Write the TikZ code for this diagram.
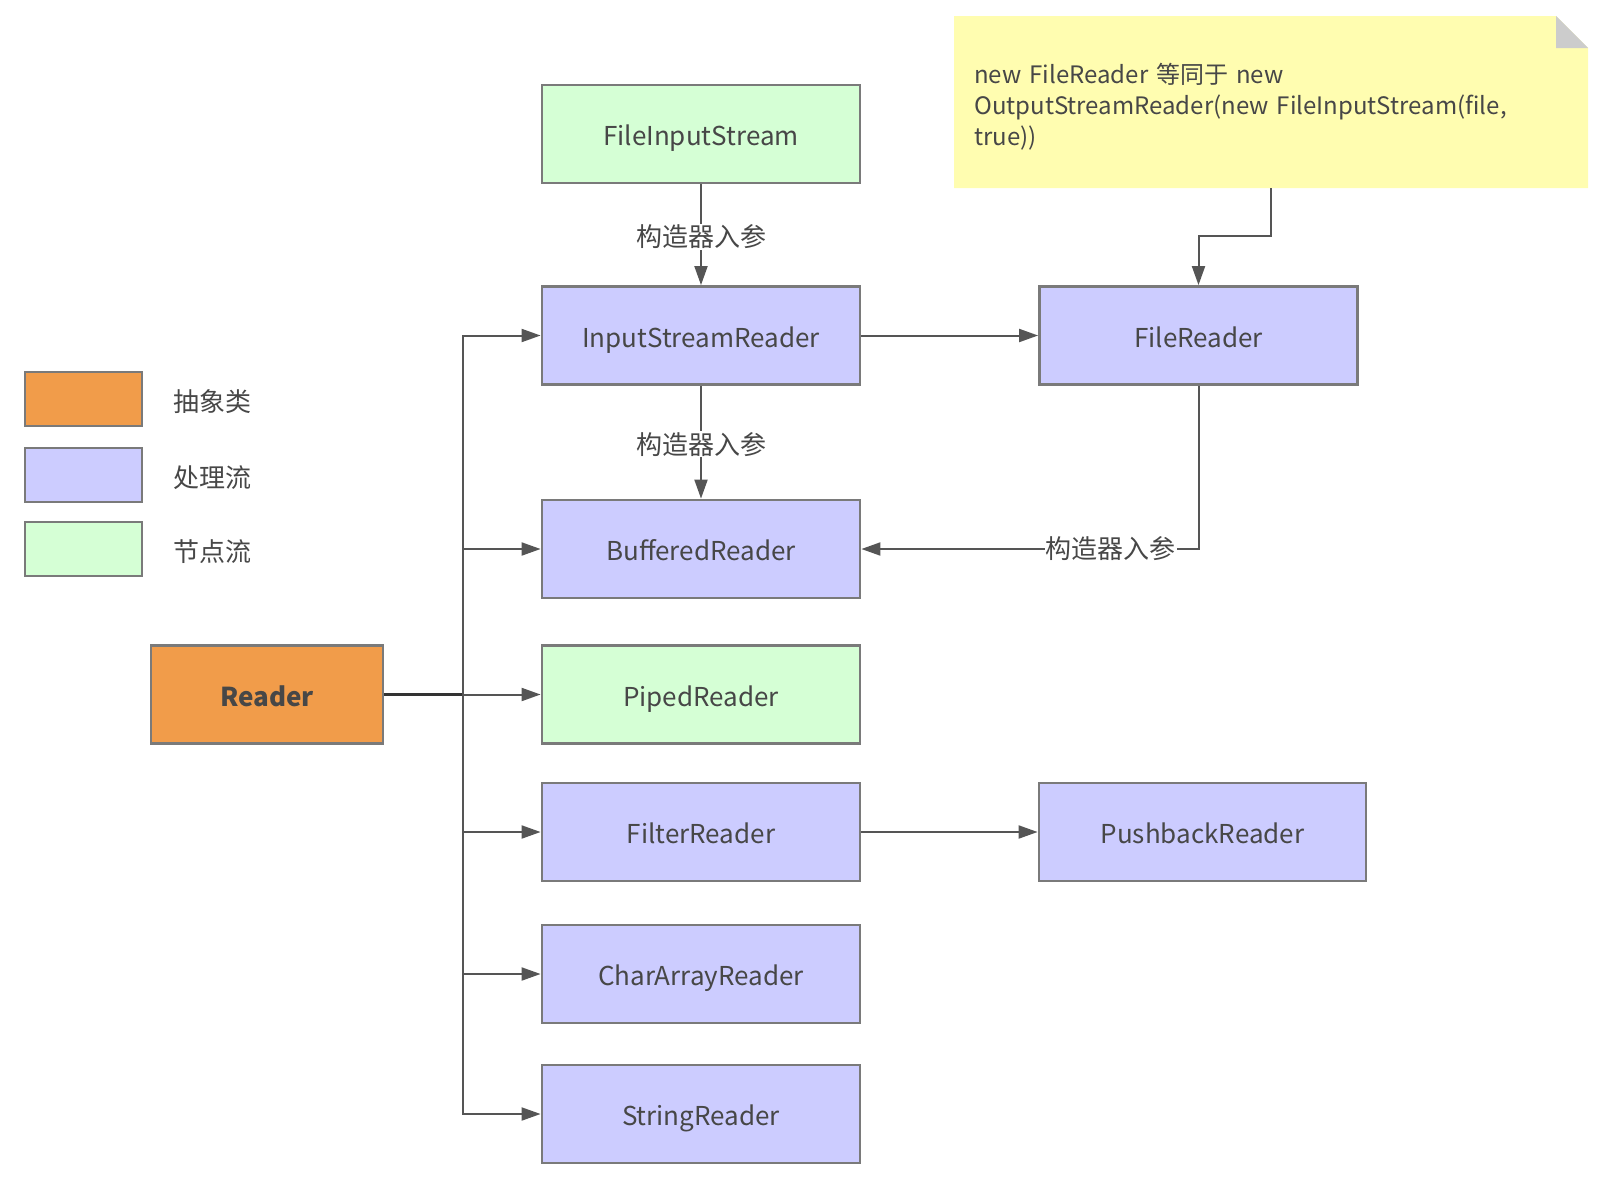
\documentclass[tikz,border=0pt]{standalone}
\usepackage{fontspec}
\setmainfont{Noto Sans CJK SC}
\usetikzlibrary{arrows.meta}
\definecolor{procfill}{HTML}{CCCCFF}
\definecolor{nodefill}{HTML}{D5FFD5}
\definecolor{absfill}{HTML}{F19C4A}
\definecolor{notefill}{HTML}{FFFDB0}
\definecolor{boxline}{HTML}{7A7A7A}
\definecolor{linkline}{HTML}{555555}
\definecolor{txt}{HTML}{474747}
\tikzset{
  box/.style={draw=boxline, line width=2.8pt, minimum width=318pt, minimum height=98pt,
    inner sep=0pt, text height=23pt, text depth=0pt,
    font=\fontsize{26}{32}\selectfont, text=txt},
  proc/.style={box, fill=procfill},
  leaf/.style={box, fill=nodefill},
  absc/.style={box, fill=absfill},
  legbox/.style={draw=boxline, line width=2.8pt, minimum width=117pt, minimum height=54pt, inner sep=0pt},
  leglabel/.style={anchor=west, font=\fontsize{26}{32}\selectfont, text=txt, inner sep=0pt},
  link/.style={draw=linkline, line width=2pt, -{Triangle[length=19pt,width=13pt]}},
  plain/.style={draw=linkline, line width=2pt},
  lab/.style={fill=white, inner sep=1pt, font=\fontsize{26}{32}\selectfont, text=txt},
}
\begin{document}
\begin{tikzpicture}[x=1pt,y=-1pt]
\useasboundingbox (0,0) rectangle (1612,1178);

% note with folded corner
\fill[notefill] (954,16) -- (1556,16) -- (1588,48) -- (1588,188) -- (954,188) -- cycle;
\fill[black!20] (1556,16) -- (1556,48) -- (1588,48) -- cycle;
\node[anchor=north west, align=left, inner sep=0pt, text=txt,
      font=\fontsize{24}{31}\selectfont, text width=600pt] (note) at (974,63)
  {new FileReader 等同于 new\\OutputStreamReader(new FileInputStream(file,\\true))};
\coordinate (notebot) at (1271,188);

% legend
\node[legbox, fill=absfill] (lg1) at (83.5,399) {};
\node[legbox, fill=procfill] (lg2) at (83.5,475) {};
\node[legbox, fill=nodefill] (lg3) at (83.5,549) {};
\node[leglabel] (lt1) at (173,402) {抽象类};
\node[leglabel] (lt2) at (173,478) {处理流};
\node[leglabel] (lt3) at (173,552) {节点流};

% classes
\node[leaf] (fis) at (701,134) {FileInputStream};
\node[proc] (isr) at (701,335.5) {InputStreamReader};
\node[proc] (fr)  at (1198.5,335.5) {FileReader};
\node[proc] (br)  at (701,549) {BufferedReader};
\node[leaf] (pr)  at (701,694.5) {PipedReader};
\node[proc] (flt) at (701,832) {FilterReader};
\node[proc, minimum width=327pt] (pb) at (1202.5,832) {PushbackReader};
\node[proc] (car) at (701,974) {CharArrayReader};
\node[proc] (sr)  at (701,1114) {StringReader};
\node[absc, minimum width=232pt, font=\fontsize{26}{32}\selectfont\bfseries] (rd) at (267,694.5) {Reader};

% connectors
\coordinate (trunk) at (463,694.5);
\draw[plain, line width=2.6pt, draw=black!80] (rd.east) -- (trunk);
\draw[link] (trunk) |- (isr.west);
\draw[link] (trunk) |- (br.west);
\draw[link] (trunk) -- (pr.west);
\draw[link] (trunk) |- (flt.west);
\draw[link] (trunk) |- (car.west);
\draw[link] (trunk) |- (sr.west);

\draw[link] (fis.south) -- node[lab, yshift=-2pt] (l1) {构造器入参} (isr.north);
\draw[link] (isr.south) -- node[lab, yshift=-2pt] (l2) {构造器入参} (br.north);
\draw[link] (isr.east) -- (fr.west);
\draw[link] (flt.east) -- (pb.west);
\draw[link] (notebot) -- ++(0,48) -| (fr.north);
\coordinate (frturn) at (fr.south |- br.east);
\draw[link] (fr.south) -- (frturn) -- node[lab, pos=0.26] (l3) {构造器入参} (br.east);
\end{tikzpicture}
\end{document}
